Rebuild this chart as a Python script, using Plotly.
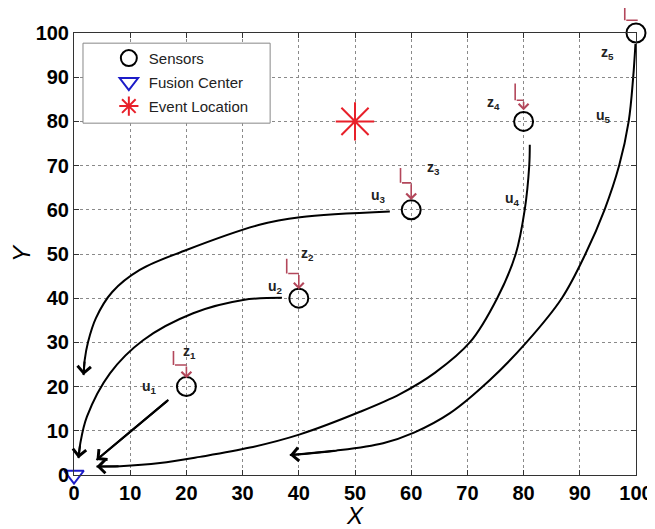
import plotly.graph_objects as go

# ---------------- data ----------------
sensor_x = [20, 40, 60, 80, 100]
sensor_y = [20, 40, 60, 80, 100]
fusion_x = [0]
fusion_y = [0]
event_x = [50]
event_y = [80]

# curved report paths u1..u5 (sensor -> fusion center)
u1_x = [16.8, 4.0]
u1_y = [17.0, 3.4]
u2_x = [37.0, 30.1, 21.2, 12.3, 6.4, 2.3, 1.1, 0.8]
u2_y = [40.1, 39.6, 36.6, 30.5, 23.0, 13.2, 7.0, 3.8]
u3_x = [56.2, 40.2, 33.0, 20.0, 11.7, 6.8, 3.9, 2.5, 1.9, 1.7]
u3_y = [59.6, 58.3, 56.6, 50.9, 46.4, 41.4, 35.5, 30.1, 26.0, 22.6]
u4_x = [81.1, 81.0, 80.2, 78.6, 75.3, 70.5, 64.2, 58.0, 50.9, 40.2, 31.3, 22.4, 15.3, 8.2, 4.0]
u4_y = [74.7, 69.9, 60.0, 50.0, 40.0, 30.1, 23.1, 18.3, 14.3, 9.2, 6.2, 4.1, 2.7, 2.0, 1.9]
u5_x = [99.9, 99.5, 98.7, 97.0, 94.4, 91.0, 86.8, 80.5, 74.0, 66.9, 60.5, 55.0, 46.6, 38.4]
u5_y = [97.5, 90.0, 80.0, 70.0, 60.0, 50.0, 40.0, 30.0, 21.5, 14.0, 9.6, 7.2, 5.5, 4.5]
u_paths = [(u1_x, u1_y), (u2_x, u2_y), (u3_x, u3_y), (u4_x, u4_y), (u5_x, u5_y)]

# label positions
u_label_x = [13.5, 35.8, 54.1, 78.1, 94.3]
u_label_y = [19.9, 42.5, 63.1, 62.4, 81.2]
z_label_x = [20.6, 41.5, 63.9, 74.7, 95.0]
z_label_y = [27.8, 50.0, 69.5, 84.2, 95.5]

# bent observation arrow z_k, per sensor (start x offset, start / corner / tip y offsets)
z_start_dx = [-2.3, -2.15, -1.9, -1.5, -2.0]
z_tip_dx = [0.0, 0.0, 0.0, 0.0, 0.3]
z_start_dy = [8.4, 9.25, 9.8, 8.9, 6.5]
z_corner_dy = [4.9, 5.6, 6.1, 4.8, 2.9]
z_tip_dy = [1.9, 2.0, 2.2, 2.5, 0.0]

X_RANGE = [0, 100]
Y_RANGE = [0, 100]
tick_vals = list(range(0, 101, 10))

FONT = "Liberation Sans, Arial, sans-serif"
RED_Z = "#b3475b"

fig = go.Figure()

for px_, py_ in u_paths:
    fig.add_trace(go.Scatter(x=px_, y=py_, mode="lines", showlegend=False,
                             line=dict(color="black", width=2, shape="spline", smoothing=1.0),
                             hoverinfo="skip"))

fig.add_trace(go.Scatter(x=sensor_x, y=sensor_y, mode="markers", name="Sensors",
                         legendgroup="s", cliponaxis=False,
                         marker=dict(symbol="circle-open", size=19, color="black",
                                     line=dict(width=2, color="black"))))
fig.add_trace(go.Scatter(x=fusion_x, y=fusion_y, mode="markers", name="Fusion Center",
                         legendgroup="f", cliponaxis=False,
                         marker=dict(symbol="triangle-down-open", size=17, color="#1c1cc8",
                                     line=dict(width=2, color="#1c1cc8"))))
fig.add_trace(go.Scatter(x=event_x, y=event_y, mode="markers", name="Event Location",
                         legendgroup="e", cliponaxis=False,
                         marker=dict(symbol="asterisk-open", size=32, color="#e8202a",
                                     line=dict(width=2, color="#e8202a"))))

annotations = []
# arrowheads on curves
for px_, py_ in u_paths:
    annotations.append(dict(x=px_[-1], y=py_[-1], ax=px_[-2], ay=py_[-2],
                            xref="x", yref="y", axref="x", ayref="y", text="",
                            showarrow=True, arrowhead=4, arrowsize=1.3, arrowwidth=2,
                            arrowcolor="black", standoff=0, startstandoff=0))


def ydom(v):
    # value on the y axis -> fraction of the y-axis domain (keeps marks above the top visible)
    return (v - Y_RANGE[0]) / (Y_RANGE[1] - Y_RANGE[0])


# z bent arrows
for k, (sx, sy) in enumerate(zip(sensor_x, sensor_y)):
    pts = [(sx + z_start_dx[k], sy + z_start_dy[k]),
           (sx + z_start_dx[k], sy + z_corner_dy[k]),
           (sx + z_tip_dx[k], sy + z_corner_dy[k]),
           (sx + z_tip_dx[k], sy + z_tip_dy[k])]
    for i in range(len(pts) - 1):
        last = i == len(pts) - 2
        annotations.append(dict(x=pts[i + 1][0], y=ydom(pts[i + 1][1]),
                                ax=pts[i][0], ay=ydom(pts[i][1]),
                                xref="x", yref="y domain", axref="x", ayref="y domain",
                                text="", showarrow=True, arrowhead=4 if last else 0,
                                arrowsize=1.2, arrowwidth=1.6, arrowcolor=RED_Z,
                                standoff=0, startstandoff=0))
# labels
for k in range(5):
    annotations.append(dict(x=u_label_x[k], y=u_label_y[k], xref="x", yref="y",
                            text="<b>u<sub>%d</sub></b>" % (k + 1), showarrow=False,
                            font=dict(family=FONT, size=14, color="#222")))
    annotations.append(dict(x=z_label_x[k], y=z_label_y[k], xref="x", yref="y",
                            text="<b>z<sub>%d</sub></b>" % (k + 1), showarrow=False,
                            font=dict(family=FONT, size=14, color="#222")))

axis_common = dict(tickvals=tick_vals, ticks="inside", ticklen=5,
                   tickcolor="#333", showline=True, linecolor="#333", linewidth=1,
                   mirror="allticks", showgrid=True, gridcolor="#8a8a8a",
                   griddash="dot", gridwidth=1, zeroline=False, automargin=False,
                   tickfont=dict(family=FONT, size=20, color="black", weight="bold"))

# page body adds an 8px margin, so the figure is shrunk by that amount
fig.update_layout(
    width=647, height=521,
    margin=dict(l=66, r=19, t=25, b=54),
    paper_bgcolor="white", plot_bgcolor="white",
    xaxis=dict(**axis_common, range=X_RANGE,
               title=dict(text="<i>X</i>", standoff=4,
                          font=dict(family=FONT, size=24, color="black"))),
    yaxis=dict(**axis_common, range=Y_RANGE,
               title=dict(text="<i>Y</i>", standoff=12,
                          font=dict(family=FONT, size=24, color="black"))),
    shapes=[dict(type="rect", xref="paper", yref="paper", x0=0.016, x1=0.349,
                 y0=0.796, y1=0.977, fillcolor="white",
                 line=dict(color="#888", width=1), layer="above")],
    legend=dict(x=0.062, y=0.98, xanchor="left", yanchor="top",
                bgcolor="rgba(0,0,0,0)", borderwidth=0, tracegroupgap=1.5,
                font=dict(family=FONT, size=15, color="#222")),
    annotations=annotations,
    showlegend=True,
)

fig.write_html("out.html")
